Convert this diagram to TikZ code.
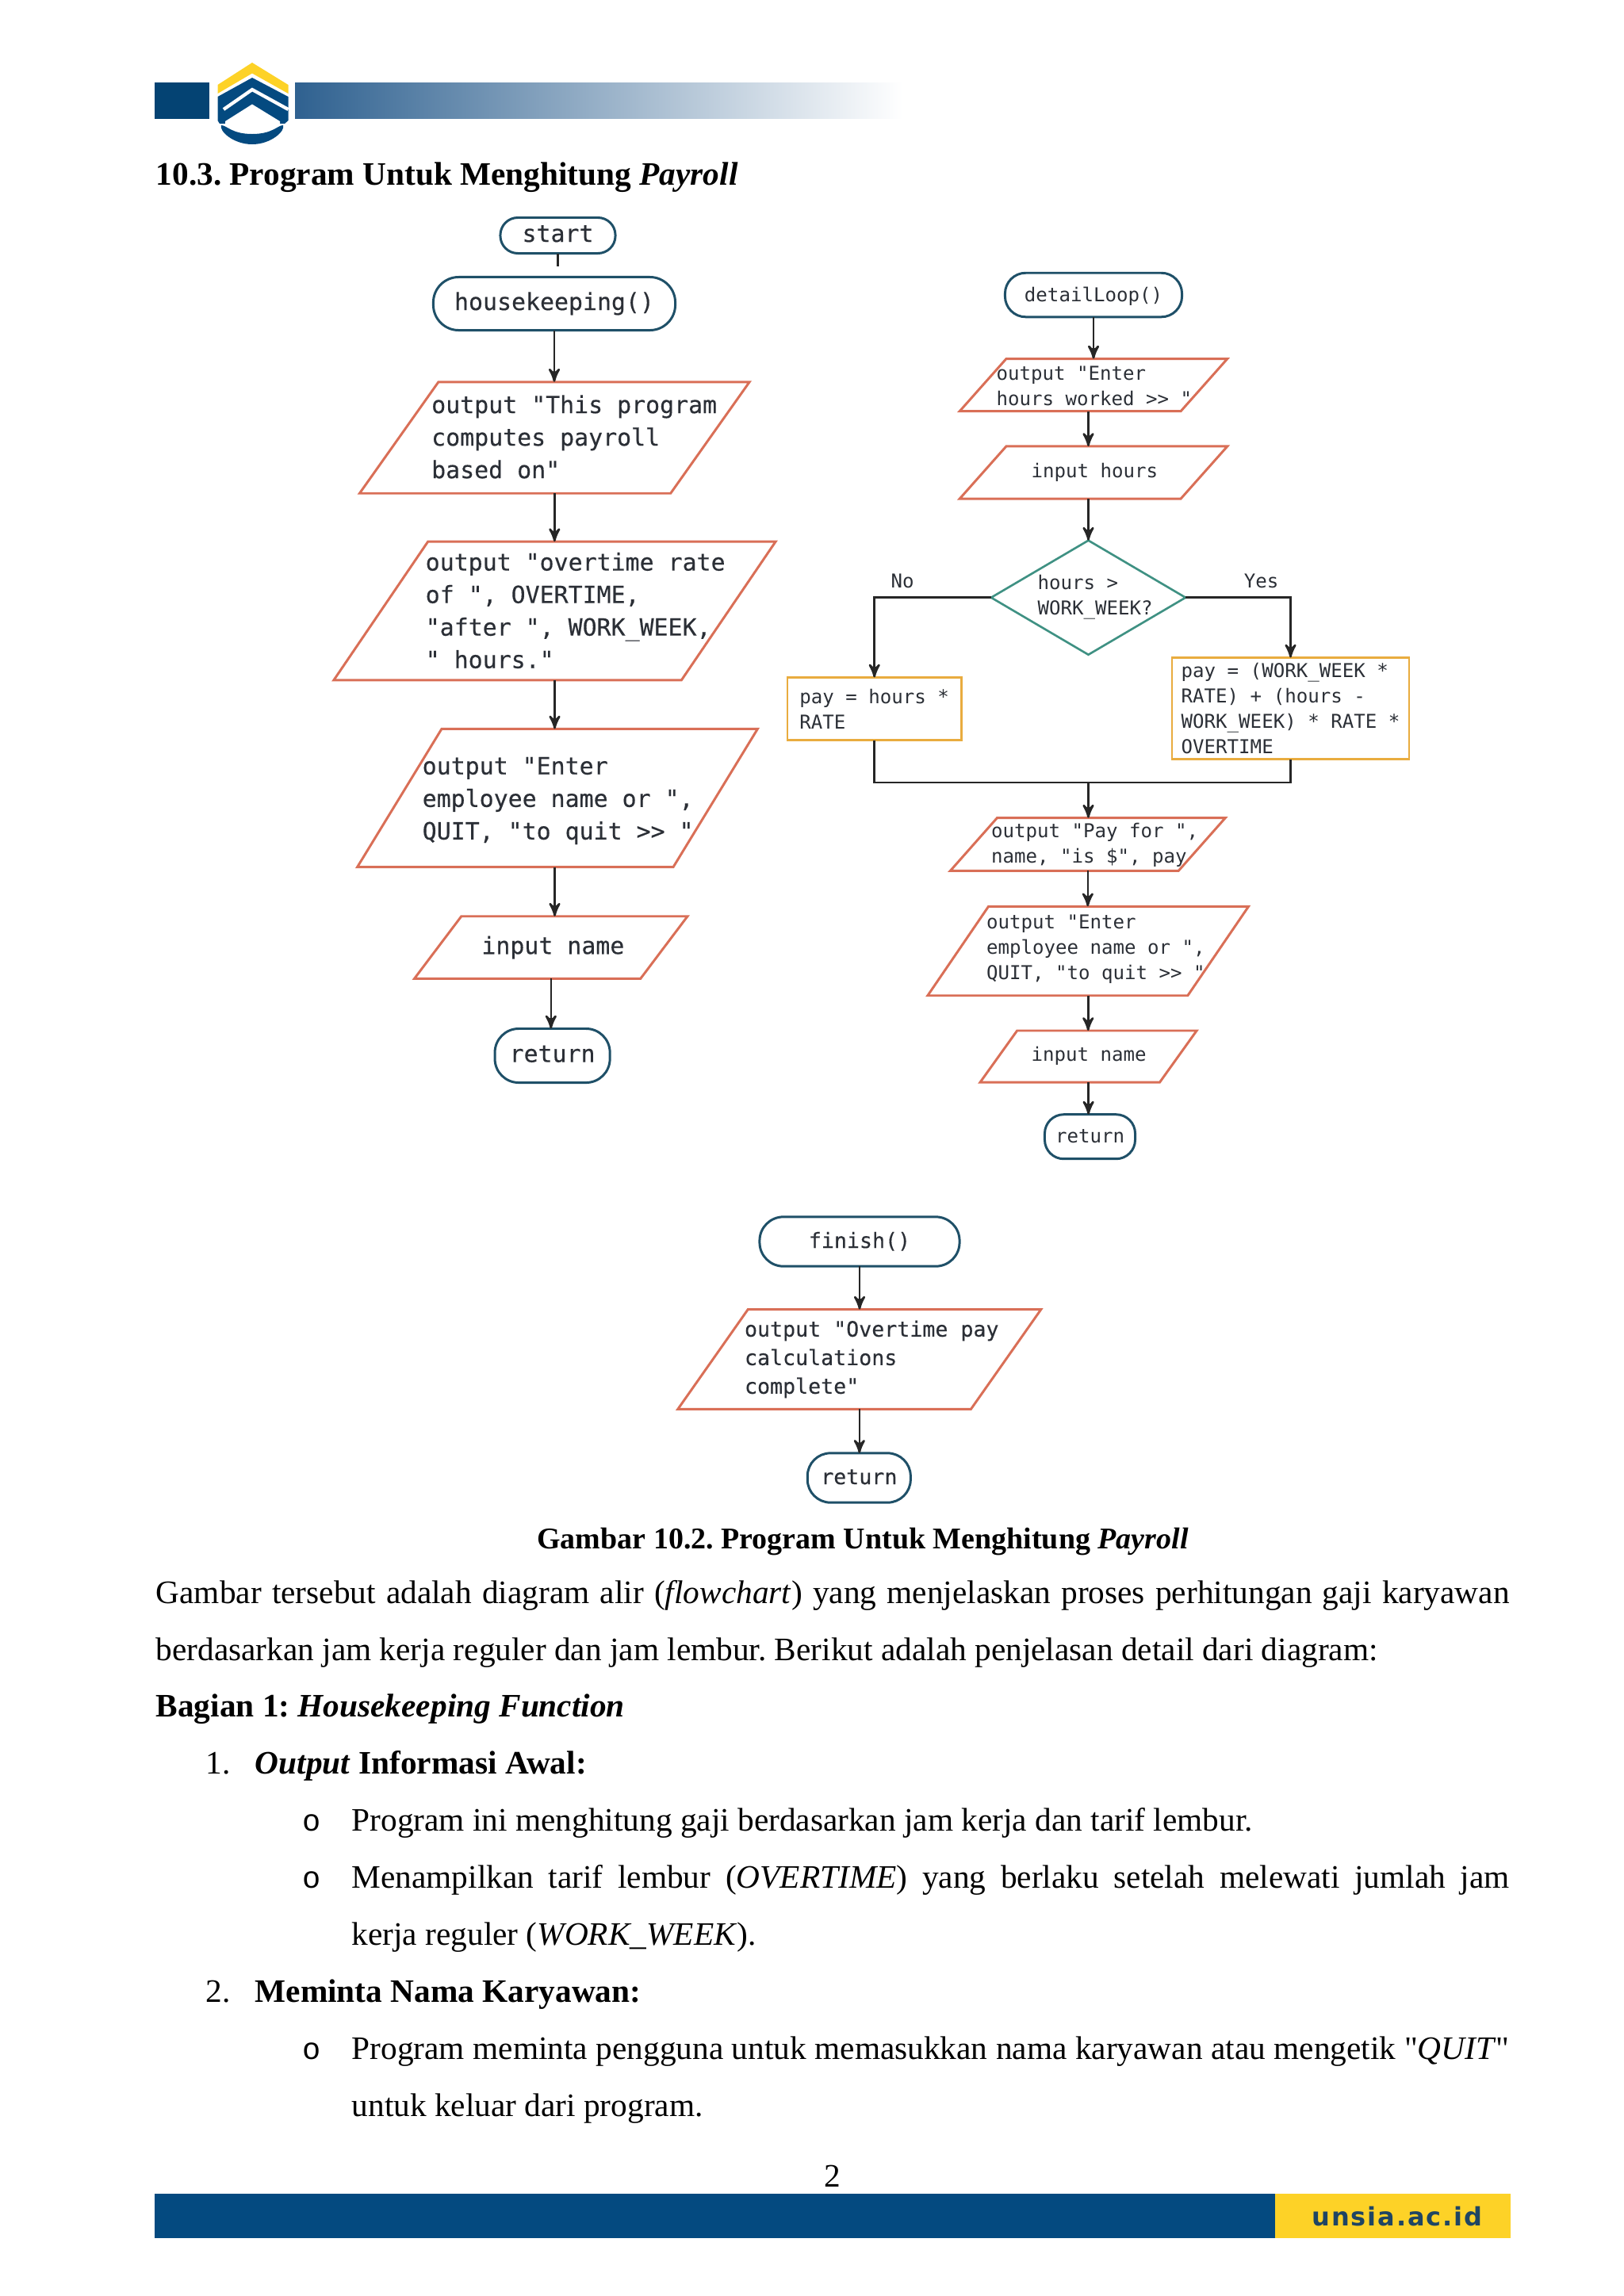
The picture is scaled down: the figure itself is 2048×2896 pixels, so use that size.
\documentclass[tikz,border=0pt]{standalone}
\usepackage{fontspec}
\setmainfont{Liberation Serif}
\newfontfamily\plainserif{Liberation Serif}
\newfontfamily\bulletfont{Liberation Mono}
\newfontfamily\codefont{DejaVu Sans Mono}
\newfontfamily\codeheavy[FakeBold=.3]{DejaVu Sans Mono}
\newfontfamily\sitefont[LetterSpace=6]{DejaVu Sans}
\usetikzlibrary{arrows}
\usetikzlibrary{shapes.geometric}
\definecolor{termblue}{HTML}{1F5068}
\definecolor{ioline}{HTML}{D96F57}
\definecolor{checkline}{HTML}{3F9183}
\definecolor{boxline}{HTML}{E9AC3F}
\definecolor{inkline}{HTML}{262626}
\definecolor{inktext}{HTML}{2B2F36}
\definecolor{unsiablue}{HTML}{044A80}
\definecolor{unsiaband}{HTML}{2F6190}
\definecolor{unsiagold}{HTML}{FDD227}
\definecolor{unsiadark}{HTML}{1F4563}
\tikzset{
 bodyline/.style={anchor=base west, inner sep=0pt, font=\frenchspacing\fontsize{11.75}{14}\selectfont},
 bulletline/.style={anchor=base west, inner sep=0pt, font=\bulletfont\fontsize{11}{14}\selectfont},
 bigcode/.style={font=\codeheavy\fontsize{8.5}{11.67}\selectfont, text=inktext},
 midcode/.style={font=\codeheavy\fontsize{7.57}{10.24}\selectfont, text=inktext},
 smallcode/.style={font=\codefont\fontsize{6.85}{9.1}\selectfont, text=inktext},
 codetext/.style={anchor=west, align=left, inner sep=0pt},
 term/.style 2 args={draw=termblue, line width=.85pt, rounded corners=#2, minimum width=#1, inner sep=0pt, outer sep=0pt, text height=1.2ex, text depth=.2ex},
 io/.style n args={3}{trapezium, draw=ioline, line width=.85pt,
  trapezium left angle=#3, trapezium right angle=180-#3, inner sep=0pt, outer sep=0pt,
  text width=#1, text height=#2, text depth=0pt},
 calc/.style 2 args={rectangle, draw=boxline, line width=.7pt, minimum width=#1, minimum height=#2, align=left, inner sep=0pt, outer sep=0pt},
 check/.style={diamond, draw=checkline, line width=.75pt, minimum width=2.45cm, minimum height=1.44cm, aspect=1.7, inner sep=0pt, outer sep=0pt},
 flow/.style={draw=inkline, line width=.75pt, ->, >=stealth'},
 wire/.style={draw=inkline, line width=.75pt},
}
\begin{document}
\begin{tikzpicture}[x=.01cm, y=-.01cm]
\useasboundingbox (0,0) rectangle (2048,2896);

\fill[unsiablue!90!black] (194.5,104) rectangle (264,149.5);
\shade[left color=unsiaband, right color=white] (372,104) rectangle (1138,149.5);
\fill[unsiagold] (318,79) -- (363.5,107) -- (363.5,118) -- (318,92.5) -- (274.5,118) -- (274.5,107) -- cycle;
\fill[unsiablue] (318,98) -- (363.5,122) -- (363.5,152) -- (359,156) -- (277,156) -- (274.5,152) -- (274.5,122) -- cycle;
\draw[white, line width=1.2pt] (282,138) -- (318,113) -- (363.5,138);
\fill[white] (318,131.5) -- (353,153) -- (353,158) -- (284,158) -- (284,153) -- cycle;
\fill[white] (274,156) rectangle (364,158);
\fill[unsiablue] (279,158) .. controls (286,158) and (292,169) .. (318,169) .. controls (344,169) and (350,158) .. (357,158) .. controls (360,165) and (342,182) .. (318,182) .. controls (294,182) and (276,165) .. (279,158) -- cycle;

\node (pagetitle) at (196,233) [bodyline] {\textbf{10.3. Program Untuk Menghitung \textit{Payroll}}};

\node (hkstart) at (703.5,297) [term={1.45cm}{.22cm}, minimum height=.45cm, bigcode] {start};
\coordinate (hkstub) at (703.5,336);
\node (hkcall) at (699,383) [term={3.05cm}{.32cm}, minimum height=.67cm, bigcode] {housekeeping()};
\node (hkmsg) at (699.3,552) [io={2.926cm}{1.404cm}{54.7}] {};
\node (hkmsgtxt) at (543.5,551) [codetext, bigcode] {output "This program\\computes payroll\\based on"};
\node (hkrate) at (699.5,770.5) [io={3.196cm}{1.745cm}{55.8}] {};
\node (hkratetxt) at (536,770) [codetext, bigcode] {output "overtime rate\\of ", OVERTIME,\\"after ", WORK\_WEEK,\\" hours."};
\node (hkprompt) at (703,1006.5) [io={2.92cm}{1.74cm}{58.6}] {};
\node (hkprompttxt) at (532,1010) [codetext, bigcode] {output "Enter\\employee name or ",\\QUIT, "to quit >> "};
\node (hkinput) at (694.8,1195) [io={2.259cm}{.785cm}{53}] {};
\node (hkinputtxt) at (606.7,1195) [codetext, bigcode] {input name};
\node (hkreturn) at (696.6,1331.5) [term={1.45cm}{.3cm}, minimum height=.68cm, bigcode] {return};

\draw[flow, -] (hkstart) -- (hkstub);
\foreach \a/\b in {hkcall/hkmsg, hkmsg/hkrate, hkrate/hkprompt, hkinput/hkreturn} {
 \draw[flow] (\a.south) -- (\a.south |- \b.north);
}
\draw[flow] (hkrate.south |- hkprompt.south) -- (hkrate.south |- hkinput.north);

\node (dlcall) at (1379,372) [term={2.23cm}{.26cm}, minimum height=.555cm, smallcode] {detailLoop()};
\node (dlprompt) at (1379,485.6) [io={2.201cm}{.66cm}{48.4}] {};
\node (dlprompttxt) at (1256,486.5) [codetext, smallcode] {output "Enter\\hours worked >> "};
\node (dlinput) at (1379,596) [io={2.201cm}{.66cm}{48.4}] {};
\node (dlinputtxt) at (1300,596) [codetext, smallcode] {input hours};
\node (dlcheck) at (1372.5,753.7) [check] {};
\node (dlchecktxt) at (1308,753) [codetext, smallcode] {hours >\\WORK\_WEEK?};
\node (dlno) at (1138,733) [smallcode, inner sep=0pt] {No};
\node (dlyes) at (1590.5,733) [smallcode, inner sep=0pt] {Yes};
\node (dlflat) at (1102.7,894) [calc={2.196cm}{.79cm}, smallcode] {pay = hours *\\RATE};
\node (dlover) at (1627.5,893.5) [calc={2.99cm}{1.28cm}, smallcode] {pay = (WORK\_WEEK *\\RATE) + (hours -\\WORK\_WEEK) * RATE *\\OVERTIME};
\coordinate (dlmerge) at (1372.5,987);
\node (dlpay) at (1371.8,1065) [io={2.287cm}{.666cm}{48.5}] {};
\node (dlpaytxt) at (1249.5,1065.5) [codetext, smallcode] {output "Pay for ",\\name, "is \$", pay};
\node (dlnext) at (1372.2,1199.5) [io={2.511cm}{1.124cm}{55.7}] {};
\node (dlnexttxt) at (1243.5,1197) [codetext, smallcode] {output "Enter\\employee name or ",\\QUIT, "to quit >> "};
\node (dlname) at (1372.6,1332.5) [io={1.798cm}{.65cm}{54.4}] {};
\node (dlnametxt) at (1300,1332) [codetext, smallcode] {input name};
\node (dlreturn) at (1374.5,1433.7) [term={1.14cm}{.24cm}, minimum height=.56cm, smallcode] {return};

\draw[flow] (dlcall.south) -- (dlcall.south |- dlprompt.north);
\draw[flow] (dlcheck.north |- dlprompt.south) -- (dlcheck.north |- dlinput.north);
\draw[flow] (dlcheck.north |- dlinput.south) -- (dlcheck.north);
\draw[flow] (dlcheck.west) -| (dlflat.north);
\draw[flow] (dlcheck.east) -| (dlover.north);
\draw[wire] (dlflat.south) |- (dlmerge) -| (dlover.south);
\draw[flow] (dlmerge) -- (dlmerge |- dlpay.north);
\foreach \a/\b in {dlpay/dlnext, dlnext/dlname, dlname/dlreturn} {
 \draw[flow] (\a.south) -- (\a.south |- \b.north);
}

\node (ficall) at (1084,1566) [term={2.52cm}{.3cm}, minimum height=.623cm, midcode] {finish()};
\node (fimsg) at (1083.8,1714.5) [io={2.811cm}{1.256cm}{54.9}] {};
\node (fimsgtxt) at (938.3,1714.5) [codetext, midcode] {output "Overtime pay\\calculations\\complete"};
\node (fireturn) at (1083.3,1864) [term={1.3cm}{.29cm}, minimum height=.623cm, midcode] {return};

\foreach \a/\b in {ficall/fimsg, fimsg/fireturn} {
 \draw[flow] (\a.south) -- (\a.south |- \b.north);
}

\node (figcaption) at (1088,1953) [bodyline, anchor=base, font=\frenchspacing\fontsize{10.8}{13}\selectfont] {\textbf{Gambar 10.2. Program Untuk Menghitung \textit{Payroll}}};
\node (bodya) at (196,2022) [bodyline] {\hbox to 17.06cm{Gambar tersebut adalah diagram alir (\textit{flowchart}) yang menjelaskan proses perhitungan gaji karyawan}};
\node (bodyb) at (196,2094) [bodyline] {berdasarkan jam kerja reguler dan jam lembur. Berikut adalah penjelasan detail dari diagram:};
\node (bodyc) at (196,2165.5) [bodyline] {\textbf{Bagian 1: \textit{Housekeeping Function}}};
\node (numa) at (259,2237) [bodyline] {1.};
\node (bodyd) at (321,2237) [bodyline] {\textbf{\textit{Output} Informasi Awal:}};
\node (bulleta) at (381,2309) [bulletline] {o};
\node (bodye) at (443,2309) [bodyline] {Program ini menghitung gaji berdasarkan jam kerja dan tarif lembur.};
\node (bulletb) at (381,2381.5) [bulletline] {o};
\node (bodyf) at (443,2381.5) [bodyline] {\hbox to 14.59cm{Menampilkan tarif lembur (\textit{OVERTIME}) yang berlaku setelah melewati jumlah jam}};
\node (bodyg) at (443,2453.5) [bodyline] {kerja reguler (\textit{WORK\_WEEK}).};
\node (numb) at (259,2525.5) [bodyline] {2.};
\node (bodyh) at (321,2525.5) [bodyline] {\textbf{Meminta Nama Karyawan:}};
\node (bulletc) at (381,2597.5) [bulletline] {o};
\node (bodyi) at (443,2597.5) [bodyline] {\hbox to 14.59cm{Program meminta pengguna untuk memasukkan nama karyawan atau mengetik {\plainserif"}\textit{QUIT}{\plainserif"}}};
\node (bodyj) at (443,2669.5) [bodyline] {untuk keluar dari program.};
\node (pagenum) at (1050,2758) [bodyline, anchor=base] {2};

\fill[unsiablue] (195,2767) rectangle (1608,2822.5);
\fill[unsiagold] (1608,2767) rectangle (1905,2822.5);
\node (siteurl) at (1762,2796) [font=\sitefont\bfseries\fontsize{9.1}{11}\selectfont, text=unsiadark, inner sep=0pt] {unsia.ac.id};
\end{tikzpicture}
\end{document}
